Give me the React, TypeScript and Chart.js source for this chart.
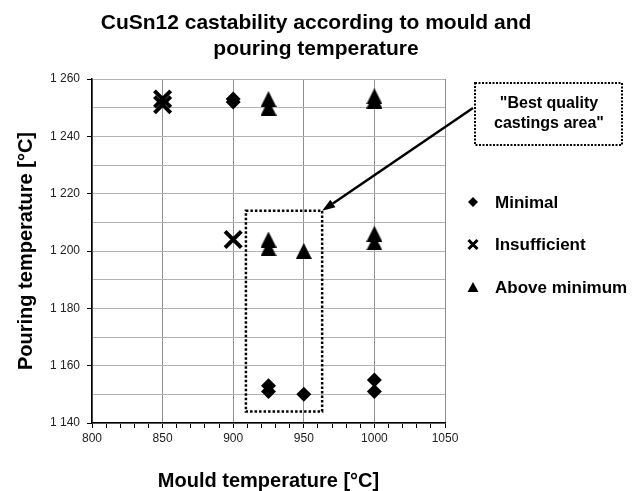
import React, { useEffect, useRef } from "react";
import { Chart, registerables } from "chart.js";

Chart.register(...registerables);

// ---- data ----
const TITLE_LINES = ["CuSn12 castability according to mould and", "pouring temperature"];
const X_TITLE = "Mould temperature [°C]";
const Y_TITLE = "Pouring temperature [°C]";

const SERIES_NAMES = ["Minimal", "Insufficient", "Above minimum"];

const minimalX = [900, 900, 925, 925, 950, 1000, 1000];
const minimalY = [1252, 1253, 1153, 1151, 1150, 1155, 1151];

const insufficientX = [850, 850, 900];
const insufficientY = [1251, 1253, 1204];

const aboveX = [925, 925, 925, 925, 950, 1000, 1000, 1000, 1000];
const aboveY = [1253, 1250, 1204, 1201, 1200, 1254, 1252.5, 1206, 1203];

const X_MIN = 800, X_MAX = 1050, X_MAJOR = 50, X_MINOR = 10;
const Y_MIN = 1140, Y_MAX = 1260, Y_MAJOR = 20, Y_MINOR = 10;

// "Best quality castings area" region (data units)
const BEST_X = [909, 963];
const BEST_Y = [1144, 1214];
const NOTE_LINES = ['"Best quality', 'castings area"'];

const pts = (xs: number[], ys: number[]) => xs.map((x, i) => ({ x, y: ys[i] }));
const fmt = (v: number) => String(v).replace(/\B(?=(\d{3})+(?!\d))/g, " ");

const FONT = '"Liberation Sans", Arial, sans-serif';

function makeTriangle(w: number, h: number) {
  const c = document.createElement("canvas");
  c.width = w;
  c.height = h;
  const g = c.getContext("2d")!;
  g.fillStyle = "#000";
  g.beginPath();
  g.moveTo(w / 2, 0);
  g.lineTo(w, h);
  g.lineTo(0, h);
  g.closePath();
  g.fill();
  return c;
}

function drawMarker(ctx: CanvasRenderingContext2D, kind: number, x: number, y: number) {
  ctx.save();
  ctx.fillStyle = "#000";
  ctx.strokeStyle = "#000";
  ctx.setLineDash([]);
  ctx.beginPath();
  if (kind === 0) {
    const r = 5;
    ctx.moveTo(x, y - r); ctx.lineTo(x + r, y); ctx.lineTo(x, y + r); ctx.lineTo(x - r, y); ctx.closePath();
    ctx.fill();
  } else if (kind === 1) {
    const r = 4.5;
    ctx.lineWidth = 3;
    ctx.moveTo(x - r, y - r); ctx.lineTo(x + r, y + r);
    ctx.moveTo(x + r, y - r); ctx.lineTo(x - r, y + r);
    ctx.stroke();
  } else {
    const h = 10, w = 11;
    ctx.moveTo(x, y - h / 2); ctx.lineTo(x + w / 2, y + h / 2); ctx.lineTo(x - w / 2, y + h / 2); ctx.closePath();
    ctx.fill();
  }
  ctx.restore();
}

const overlay = {
  id: "overlay",
  afterDraw(chart: any) {
    const ctx: CanvasRenderingContext2D = chart.ctx;
    const xs = chart.scales.x, ys = chart.scales.y;
    ctx.save();
    // title
    ctx.fillStyle = "#000";
    ctx.textAlign = "center";
    ctx.textBaseline = "middle";
    ctx.font = `bold 21px ${FONT}`;
    TITLE_LINES.forEach((t, i) => ctx.fillText(t, 316, 23 + i * 26));

    // dotted region
    const l = xs.getPixelForValue(BEST_X[0]);
    const r = xs.getPixelForValue(BEST_X[1]);
    const t = ys.getPixelForValue(BEST_Y[1]);
    const b = ys.getPixelForValue(BEST_Y[0]);
    ctx.strokeStyle = "#000";
    ctx.lineWidth = 2.5;
    ctx.setLineDash([2.5, 2]);
    ctx.strokeRect(l, t, r - l, b - t);

    // note box
    ctx.lineWidth = 2;
    ctx.setLineDash([2, 1.5]);
    ctx.strokeRect(475, 83, 147, 62);
    ctx.font = `bold 16px ${FONT}`;
    ctx.fillText(NOTE_LINES[0], 549, 104);
    ctx.fillText(NOTE_LINES[1], 549, 124);

    // arrow
    ctx.setLineDash([]);
    const tx = 473, ty = 108;
    ctx.lineWidth = 2.5;
    const ang = Math.atan2(t - ty, r - tx);
    const hl = 13, hw = 4.5;
    const bx = r - Math.cos(ang) * hl, by = t - Math.sin(ang) * hl;
    ctx.beginPath();
    ctx.moveTo(tx, ty);
    ctx.lineTo(bx, by);
    ctx.stroke();
    ctx.beginPath();
    ctx.moveTo(r, t);
    ctx.lineTo(bx - Math.sin(ang) * hw, by + Math.cos(ang) * hw);
    ctx.lineTo(bx + Math.sin(ang) * hw, by - Math.cos(ang) * hw);
    ctx.closePath();
    ctx.fill();

    // legend
    ctx.font = `bold 17px ${FONT}`;
    ctx.textAlign = "left";
    SERIES_NAMES.forEach((name, i) => {
      const y = 202 + i * 42.5;
      drawMarker(ctx, i, 473, y);
      ctx.fillStyle = "#000";
      ctx.fillText(name, 495, y + 1);
    });
    ctx.restore();
  },
};

export default function App() {
  const ref = useRef<HTMLCanvasElement | null>(null);
  useEffect(() => {
    if (!ref.current) return;
    const tri = makeTriangle(16, 16);
    const chart = new Chart(ref.current, {
      type: "scatter",
      data: {
        datasets: [
          {
            label: SERIES_NAMES[0],
            data: pts(minimalX, minimalY),
            pointStyle: "rectRot",
            pointRadius: 7.5,
            backgroundColor: "#000",
            borderColor: "#000",
            borderWidth: 0,
          },
          {
            label: SERIES_NAMES[1],
            data: pts(insufficientX, insufficientY),
            pointStyle: "crossRot",
            pointRadius: 11.5,
            backgroundColor: "#000",
            borderColor: "#000",
            borderWidth: 4,
          },
          {
            label: SERIES_NAMES[2],
            data: pts(aboveX, aboveY),
            pointStyle: tri,
            pointRadius: 8,
            backgroundColor: "#000",
            borderColor: "#000",
            borderWidth: 0,
          },
        ],
      },
      options: {
        animation: false,
        responsive: false,
        events: [],
        layout: { padding: { left: 0, right: 187, top: 79, bottom: 0 } },
        plugins: { legend: { display: false }, tooltip: { enabled: false }, title: { display: false } },
        scales: {
          x: {
            type: "linear",
            min: X_MIN,
            max: X_MAX,
            afterFit: (s: any) => { s.height = 68; },
            ticks: {
              stepSize: X_MINOR,
              autoSkip: false,
              maxRotation: 0,
              padding: 3,
              color: "#222",
              font: { family: FONT, size: 12 },
              callback: (v: any) => (Number(v) % X_MAJOR === 0 ? String(v) : ""),
            },
            grid: {
              color: (c: any) => (c.tick && c.tick.value % X_MAJOR === 0 ? "#8f8f8f" : "rgba(0,0,0,0)"),
              tickColor: "#000",
              tickLength: 5,
              lineWidth: 1,
            },
            border: { color: "#000", width: 1.5 },
            title: {
              display: true,
              text: X_TITLE,
              color: "#000",
              font: { family: FONT, size: 20, weight: "bold", lineHeight: 1 },
              padding: { top: 0, bottom: 0 },
            },
          },
          y: {
            type: "linear",
            min: Y_MIN,
            max: Y_MAX,
            afterFit: (s: any) => { s.width = 92; },
            ticks: {
              stepSize: Y_MINOR,
              autoSkip: false,
              padding: 7,
              color: "#222",
              font: { family: FONT, size: 12 },
              callback: (v: any) => ((Number(v) - Y_MIN) % Y_MAJOR === 0 ? fmt(Number(v)) : ""),
            },
            grid: {
              color: "#b3b3b3",
              tickColor: (c: any) => (c.tick && (c.tick.value - Y_MIN) % Y_MAJOR === 0 ? "#000" : "rgba(0,0,0,0)"),
              tickLength: 5,
              lineWidth: 1,
            },
            border: { color: "#000", width: 1.5 },
            title: {
              display: true,
              text: Y_TITLE,
              color: "#000",
              font: { family: FONT, size: 20, weight: "bold", lineHeight: 1 },
              padding: { top: 16, bottom: 0 },
            },
          },
        },
      },
      plugins: [overlay],
    } as any);
    return () => chart.destroy();
  }, []);
  return (
    <div style={{ position: "fixed", left: 0, top: 0, width: 632, height: 491, background: "#fff" }}>
      <canvas ref={ref} width={632} height={491} style={{ display: "block" }} />
    </div>
  );
}
